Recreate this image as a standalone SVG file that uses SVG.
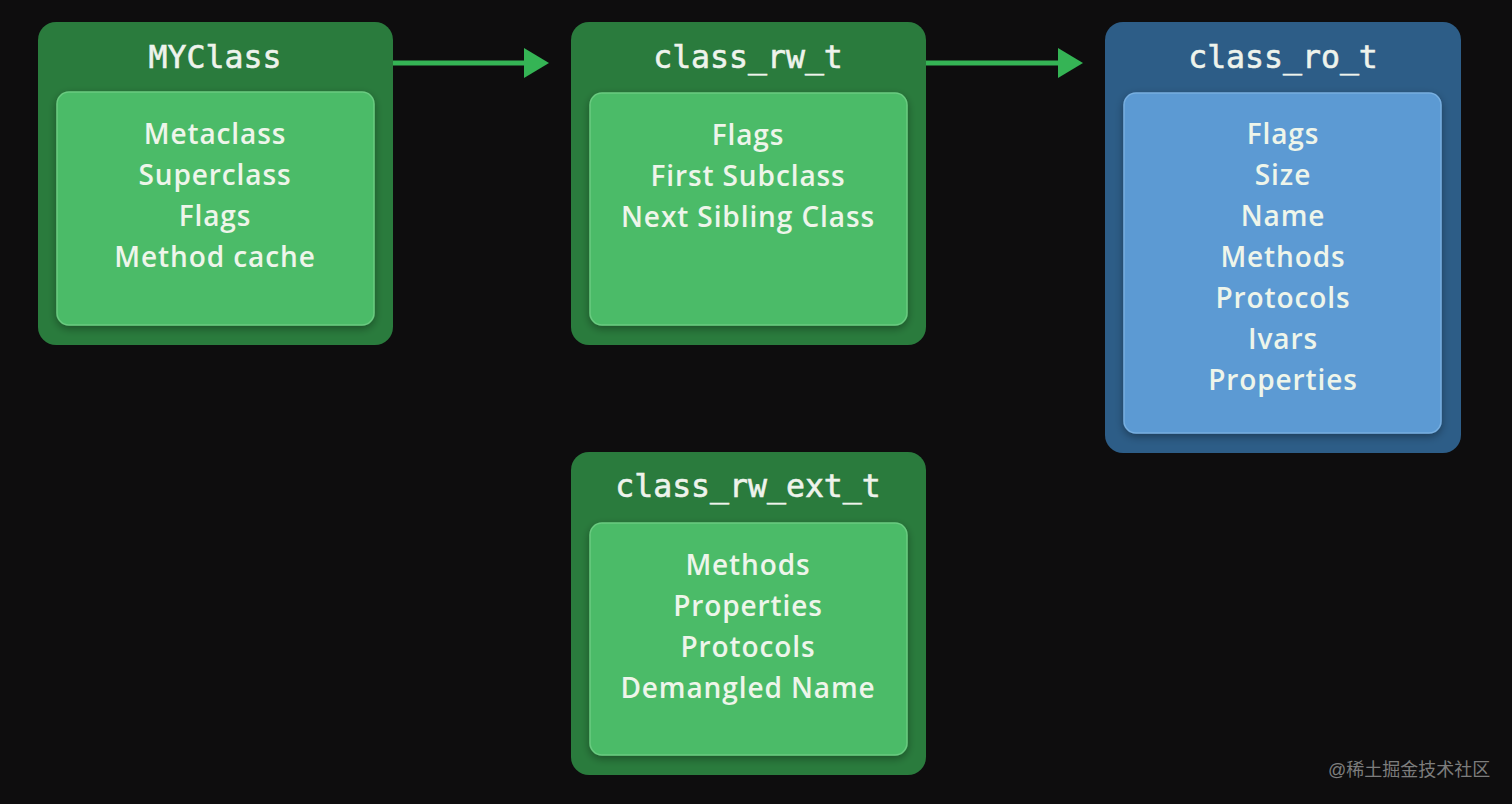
<svg xmlns="http://www.w3.org/2000/svg" width="1512" height="804" viewBox="0 0 1512 804">
<style>
.bg{fill:#0e0d0e}
.og{fill:#2a7b3d}
.ig{fill:#4cbb68;stroke:#6acb80;stroke-width:1.5}
.ob{fill:#2d5d87}
.ib{fill:#5b9ad3;stroke:#78afe0;stroke-width:1.5}
.title{font-family:"DejaVu Sans Mono","Liberation Mono",monospace;font-size:31.5px;fill:#eef3ec;text-anchor:middle;stroke:#eef3ec;stroke-width:0.6}
.item{font-family:"Open Sans","Liberation Sans",sans-serif;font-size:28px;font-weight:600;letter-spacing:0.9px;fill:#eef5ea;text-anchor:middle}
.conn{stroke:#35b455;stroke-width:5;fill:none}
.wm{font-family:"Liberation Sans","Noto Sans CJK SC",sans-serif;font-size:18px;fill:#7d7d7d}
</style>
<defs>
<marker id="ah" markerWidth="6" markerHeight="6" refX="1" refY="3" orient="auto" markerUnits="strokeWidth">
<path d="M0,0 L5,3 L0,6 z" fill="#35b455"/>
</marker>
<filter id="sh" x="-10%" y="-10%" width="120%" height="120%">
<feDropShadow dx="0" dy="3" stdDeviation="4" flood-color="#000" flood-opacity="0.35"/>
</filter>
</defs>
<rect class="bg" x="0" y="0" width="1512" height="804"/>
<g id="connectors">
<line class="conn" x1="393" y1="63" x2="529" y2="63" marker-end="url(#ah)"/>
<line class="conn" x1="926" y1="63" x2="1063" y2="63" marker-end="url(#ah)"/>
</g>
<g id="myclass">
<rect class="og" x="38" y="22" width="355" height="323" rx="18"/>
<rect class="ig" x="57" y="92" width="317" height="233" rx="12" filter="url(#sh)"/>
<text class="title" x="215" y="68">MYClass</text>
<text class="item" x="215" y="144">Metaclass</text>
<text class="item" x="215" y="185">Superclass</text>
<text class="item" x="215" y="226">Flags</text>
<text class="item" x="215" y="267">Method cache</text>
</g>
<g id="class_rw_t">
<rect class="og" x="571" y="22" width="355" height="323" rx="18"/>
<rect class="ig" x="590" y="93" width="317" height="232" rx="12" filter="url(#sh)"/>
<text class="title" x="748" y="68">class_rw_t</text>
<text class="item" x="748" y="145">Flags</text>
<text class="item" x="748" y="186">First Subclass</text>
<text class="item" x="748" y="227">Next Sibling Class</text>
</g>
<g id="class_ro_t">
<rect class="ob" x="1105" y="22" width="356" height="431" rx="18"/>
<rect class="ib" x="1124" y="93" width="317" height="340" rx="12" filter="url(#sh)"/>
<text class="title" x="1283" y="68">class_ro_t</text>
<text class="item" x="1283" y="144">Flags</text>
<text class="item" x="1283" y="185">Size</text>
<text class="item" x="1283" y="226">Name</text>
<text class="item" x="1283" y="267">Methods</text>
<text class="item" x="1283" y="308">Protocols</text>
<text class="item" x="1283" y="349">Ivars</text>
<text class="item" x="1283" y="390">Properties</text>
</g>
<g id="class_rw_ext_t">
<rect class="og" x="571" y="452" width="355" height="323" rx="18"/>
<rect class="ig" x="590" y="523" width="317" height="232" rx="12" filter="url(#sh)"/>
<text class="title" x="748" y="497">class_rw_ext_t</text>
<text class="item" x="748" y="575">Methods</text>
<text class="item" x="748" y="616">Properties</text>
<text class="item" x="748" y="657">Protocols</text>
<text class="item" x="748" y="698">Demangled Name</text>
</g>
<text class="wm" x="1328" y="776">@稀土掘金技术社区</text>
</svg>
